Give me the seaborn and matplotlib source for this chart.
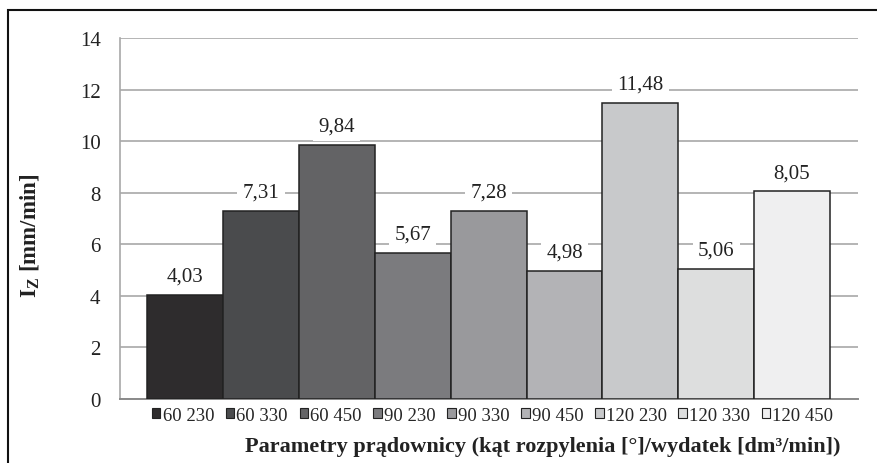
import matplotlib
matplotlib.use("Agg")
import matplotlib.pyplot as plt
from matplotlib.patches import Rectangle
import seaborn as sns
import pandas as pd

# Spray-gun settings: spray angle [deg] / flow rate [dm3/min]
categories = ["60 230", "60 330", "60 450", "90 230", "90 330",
              "90 450", "120 230", "120 330", "120 450"]
values = [4.03, 7.31, 9.84, 5.67, 7.28, 4.98, 11.48, 5.06, 8.05]
value_labels = ["4,03", "7,31", "9,84", "5,67", "7,28",
                "4,98", "11,48", "5,06", "8,05"]
colors = ["#2e2c2d", "#4a4b4d", "#636365", "#7a7b7f", "#98999d",
          "#b2b3b7", "#c8c9cb", "#dddede", "#efeff0"]
y_ticks = [0, 2, 4, 6, 8, 10, 12, 14]

sns.set_theme(style="white")
plt.rcParams["font.family"] = ["Liberation Serif", "DejaVu Serif"]
plt.rcParams["mathtext.fontset"] = "custom"
plt.rcParams["mathtext.rm"] = "Liberation Serif"
plt.rcParams["mathtext.bf"] = "Liberation Serif:bold"

df = pd.DataFrame({"param": categories, "Iz": values})

W, H = 878, 464
fig = plt.figure(figsize=(W / 100, H / 100), dpi=100)
ax = fig.add_axes([120 / W, 1 - 400 / H, 738 / W, 361 / H])

sns.barplot(data=df, x="param", y="Iz", hue="param", order=categories,
            hue_order=categories, palette=colors, width=1.0, dodge=False,
            edgecolor="#222222", linewidth=1.1, legend=True, ax=ax, zorder=3)

ax.set_ylim(0, 14)
ax.set_yticks(y_ticks)
ax.set_yticklabels([str(t) for t in y_ticks], fontsize=15, color="#222222")
ax.set_xticks([])
ax.set_xlim(-0.86, 8.87)
ax.tick_params(axis="y", length=0, pad=14)
ax.grid(axis="y", color="#a8a8a8", linewidth=1.2, zorder=0)
ax.set_axisbelow(True)
for side in ["top", "right"]:
    ax.spines[side].set_visible(False)
ax.spines["left"].set_color("#a8a8a8")
ax.spines["left"].set_linewidth(1.2)
ax.spines["bottom"].set_color("#8a8a8a")
ax.spines["bottom"].set_linewidth(1.4)
ax.set_xlabel("")
ax.set_ylabel("")

# value labels above each bar, on a white box that breaks the gridlines
for i, (v, lab) in enumerate(zip(values, value_labels)):
    ax.annotate(lab, xy=(i, v), xytext=(0, 13.5), textcoords="offset points",
                ha="center", va="center", fontsize=15, color="#222222",
                bbox=dict(boxstyle="square,pad=0.25", fc="white", ec="none"),
                zorder=5)

# legend in a single row under the plot
handles, labels = ax.get_legend_handles_labels()
leg = ax.legend(handles, labels, loc="center", bbox_to_anchor=(0.505, -0.045),
                ncol=9, frameon=False, fontsize=13.5, handlelength=0.45,
                handleheight=0.45, handletextpad=0.12, columnspacing=0.62,
                borderaxespad=0)
for h in leg.legend_handles:
    h.set_edgecolor("#222222")
    h.set_linewidth(0.8)

fig.text(543 / W, 1 - 447 / H,
         "Parametry prądownicy (kąt rozpylenia [°]/wydatek [dm³/min])",
         ha="center", va="center", fontsize=16, fontweight="bold",
         color="#222222")
fig.text(30 / W, 1 - 236 / H, r"$\mathbf{I_Z}$ [mm/min]", rotation=90,
         ha="center", va="center", fontsize=16.5, fontweight="bold",
         color="#222222")

# frame around the figure
fig.patches.append(Rectangle((8 / W, -0.1), 1.2, 1 - 11 / H + 0.1,
                             transform=fig.transFigure, fill=False,
                             ec="#111111", lw=1.5))

fig.savefig("out.png", dpi=100)
